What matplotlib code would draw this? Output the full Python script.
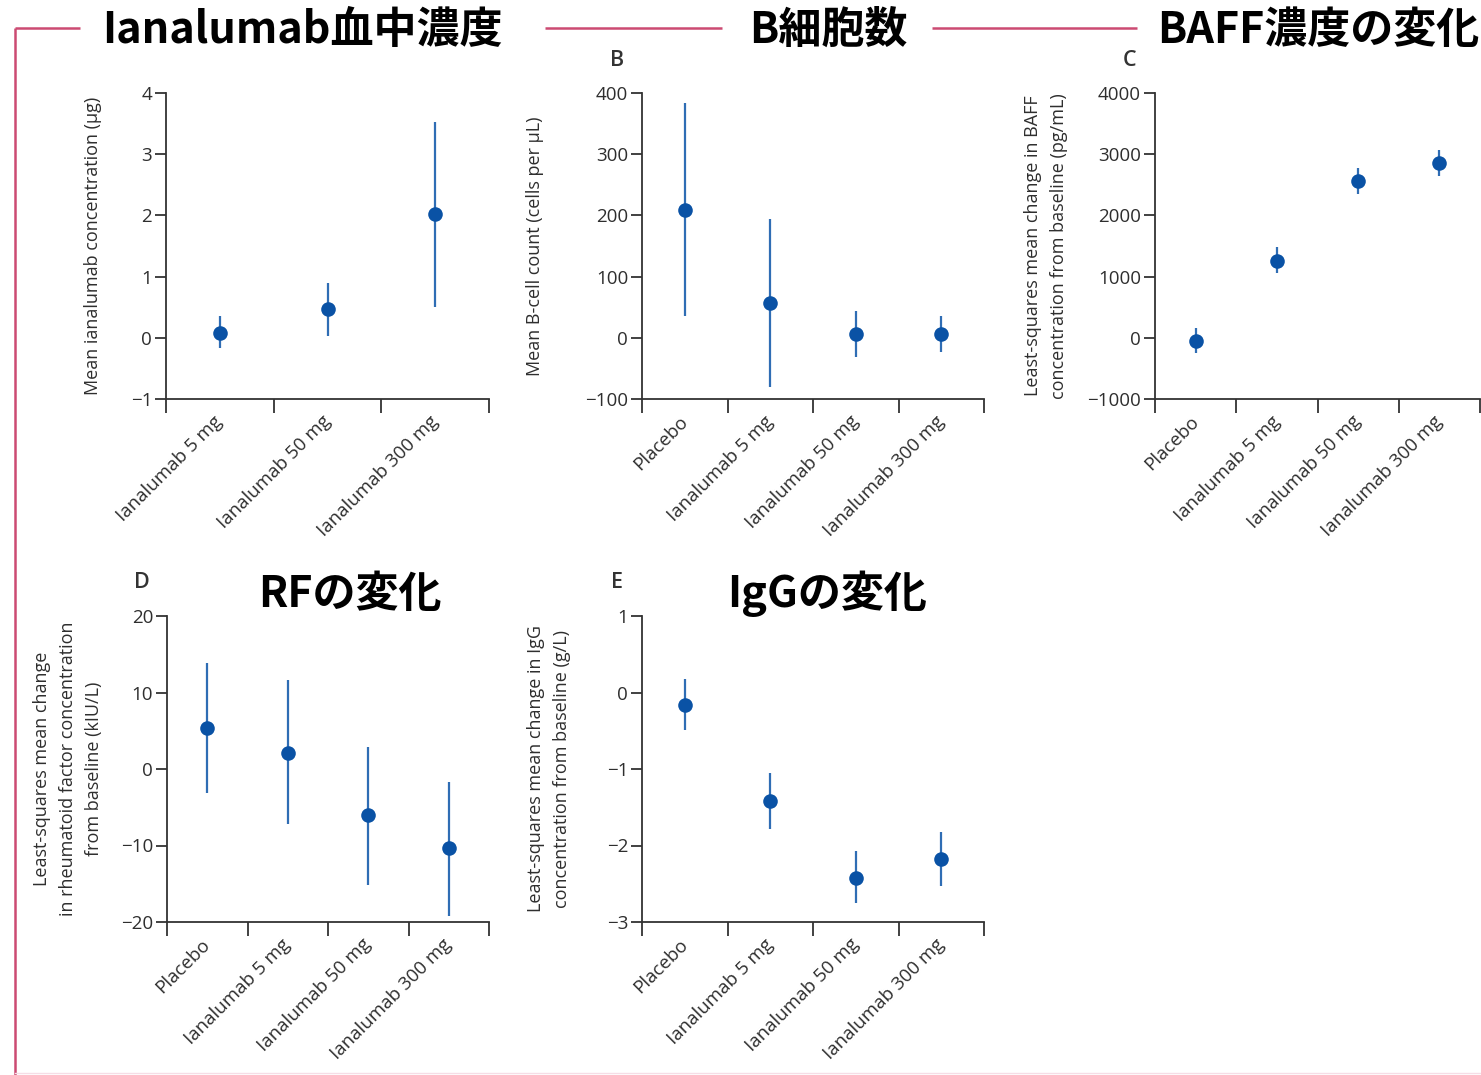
import matplotlib
matplotlib.use("Agg")
import matplotlib.pyplot as plt
from matplotlib.lines import Line2D
import numpy as np

W, H = 1481, 1075

# ---------------- data ----------------
cats3 = ["Ianalumab 5 mg", "Ianalumab 50 mg", "Ianalumab 300 mg"]
cats4 = ["Placebo", "Ianalumab 5 mg", "Ianalumab 50 mg", "Ianalumab 300 mg"]

a_mean = [0.08, 0.47, 2.02]
a_low = [-0.17, 0.03, 0.51]
a_high = [0.35, 0.90, 3.52]

b_mean = [209, 57, 7, 7]
b_low = [36, -81, -31, -23]
b_high = [383, 194, 43, 36]

c_mean = [-55, 1253, 2565, 2855]
c_low = [-250, 1052, 2348, 2637]
c_high = [153, 1477, 2778, 3067]

d_mean = [5.4, 2.1, -6.0, -10.3]
d_low = [-3.2, -7.2, -15.1, -19.2]
d_high = [13.9, 11.6, 2.9, -1.7]

e_mean = [-0.16, -1.42, -2.42, -2.18]
e_low = [-0.49, -1.78, -2.75, -2.53]
e_high = [0.18, -1.05, -2.07, -1.83]

a_yticks = [-1, 0, 1, 2, 3, 4]
b_yticks = [-100, 0, 100, 200, 300, 400]
c_yticks = [-1000, 0, 1000, 2000, 3000, 4000]
d_yticks = [-20, -10, 0, 10, 20]
e_yticks = [-3, -2, -1, 0, 1]

titles = ["Ianalumab血中濃度", "B細胞数", "BAFF濃度の変化", "RFの変化", "IgGの変化"]

# ---------------- style ----------------
DOT = "#0a52a5"
BAR = "#2f6db4"
AXC = "#333333"
TXT = "#2e2e2e"
PINK = "#cc4a72"
TICKFONT = ["Open Sans", "DejaVu Sans"]
TITLEFONT = ["Noto Sans CJK JP", "DejaVu Sans"]

fig = plt.figure(figsize=(W / 100, H / 100), dpi=100)
fig.patch.set_facecolor("white")


def add_ax(left, right, top, bottom):
    return fig.add_axes([left / W, (H - bottom) / H, (right - left) / W, (bottom - top) / H])


def draw(ax, cats, mean, low, high, yticks, ylabel, lab_x):
    n = len(cats)
    xs = np.arange(n) + 0.5
    mean = np.asarray(mean, float)
    yerr = np.vstack([mean - np.asarray(low, float), np.asarray(high, float) - mean])
    ax.errorbar(xs, mean, yerr=yerr, fmt="none", ecolor=BAR, elinewidth=1.6, capsize=0, zorder=2)
    ax.plot(xs, mean, "o", color=DOT, markersize=10.5, markeredgewidth=0, zorder=3)
    ax.set_xlim(0, n)
    ax.set_ylim(yticks[0], yticks[-1])
    ax.set_yticks(yticks)
    ax.set_yticklabels([str(t).replace("-", "−") for t in yticks], fontfamily=TICKFONT,
                       fontsize=13.5, color=TXT)
    ax.set_xticks(np.arange(n + 1))
    ax.set_xticklabels([])
    ax.set_xticks(xs, minor=True)
    ax.set_xticklabels(cats, minor=True, rotation=45, ha="right", va="center",
                       rotation_mode="anchor", fontfamily=TICKFONT, fontsize=13.5, color=TXT)
    ax.tick_params(axis="x", which="major", direction="out", length=10, width=1.3, color=AXC)
    ax.tick_params(axis="x", which="minor", length=0, pad=14)
    ax.tick_params(axis="y", which="major", direction="out", length=8, width=1.3, color=AXC, pad=2)
    for s in ["top", "right"]:
        ax.spines[s].set_visible(False)
    for s in ["left", "bottom"]:
        ax.spines[s].set_color(AXC)
        ax.spines[s].set_linewidth(1.3)
    ax.set_ylabel(ylabel, fontfamily=TICKFONT, fontsize=13, color=TXT, linespacing=1.55,
                  va="center")
    ax.yaxis.set_label_coords(lab_x, 0.5)
    ax.set_facecolor("none")


# label centre x positions in pixels converted to axes fraction
axA = add_ax(166, 489, 93, 399)
draw(axA, cats3, a_mean, a_low, a_high, a_yticks, "Mean ianalumab concentration (μg)",
     (93 - 166) / 323)

axB = add_ax(642, 984, 93, 399)
draw(axB, cats4, b_mean, b_low, b_high, b_yticks, "Mean B-cell count (cells per μL)",
     (535 - 642) / 342)

axC = add_ax(1155, 1480, 93, 399)
draw(axC, cats4, c_mean, c_low, c_high, c_yticks,
     "Least-squares mean change in BAFF\nconcentration from baseline (pg/mL)", (1046 - 1155) / 325)

axD = add_ax(167, 489, 616, 922)
draw(axD, cats4, d_mean, d_low, d_high, d_yticks,
     "Least-squares mean change\nin rheumatoid factor concentration\nfrom baseline (kIU/L)",
     (68 - 167) / 322)

axE = add_ax(642, 984, 616, 922)
draw(axE, cats4, e_mean, e_low, e_high, e_yticks,
     "Least-squares mean change in IgG\nconcentration from baseline (g/L)", (549 - 642) / 342)

# panel letters
for letter, (px, py) in {"B": (617, 60), "C": (1130, 60), "D": (142, 582), "E": (617, 582)}.items():
    fig.text(px / W, 1 - py / H, letter, fontfamily=TICKFONT, fontsize=15.5, color=AXC,
             fontweight="semibold", ha="center", va="center")

# pink frame lines
def fline(x0, y0, x1, y1, **kw):
    fig.add_artist(Line2D([x0 / W, x1 / W], [1 - y0 / H, 1 - y1 / H], transform=fig.transFigure,
                          color=PINK, linewidth=1.8, solid_capstyle="butt", **kw))

fline(15, 28, 80, 28)
fline(545, 28, 722, 28)
fline(932, 28, 1137, 28)
fline(15, 28, 15, 1075)
fig.add_artist(Line2D([15 / W, 1], [1 - 1073 / H, 1 - 1073 / H], transform=fig.transFigure,
                      color="#f6dde6", linewidth=1.0))

# titles
tkw = dict(fontfamily=TITLEFONT, fontsize=31, fontweight="bold", color="black", va="center")
fig.text(302 / W, 1 - 30 / H, titles[0], ha="center", **tkw)
fig.text(828 / W, 1 - 30 / H, titles[1], ha="center", **tkw)
fig.text(1157 / W, 1 - 30 / H, titles[2], ha="left", **tkw)
fig.text(350 / W, 1 - 594 / H, titles[3], ha="center", **tkw)
fig.text(827 / W, 1 - 594 / H, titles[4], ha="center", **tkw)

fig.savefig("out.png", dpi=100, facecolor="white")
